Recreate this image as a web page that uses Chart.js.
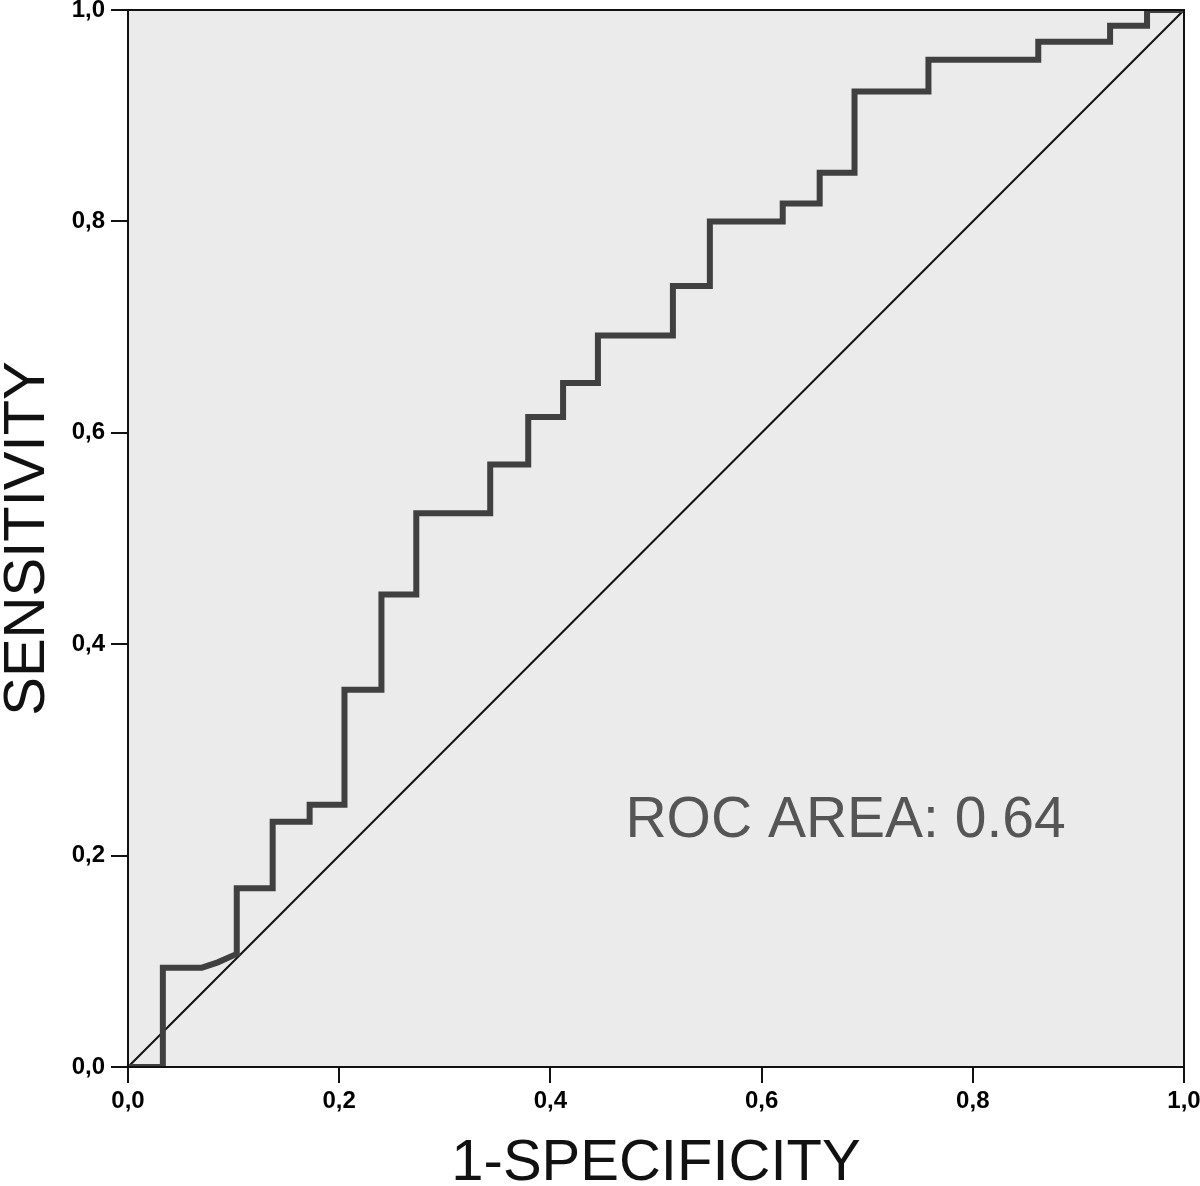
<!DOCTYPE html>
<html>
<head>
<meta charset="utf-8">
<script src="https://cdn.jsdelivr.net/npm/chart.js@4/dist/chart.umd.min.js"></script>
<style>
  html, body { margin: 0; padding: 0; background: #fff; }
  #wrap { width: 1200px; height: 1186px; }
</style>
</head>
<body>
<div id="wrap"><canvas id="myChart"></canvas></div>
<script>
// ROC curve corners
var fpr = [0, 0.033, 0.033, 0.070, 0.085, 0.103, 0.103, 0.137, 0.137, 0.172, 0.172, 0.205, 0.205,
           0.240, 0.240, 0.273, 0.273, 0.343, 0.343, 0.379, 0.379, 0.412, 0.412, 0.445, 0.445,
           0.516, 0.516, 0.551, 0.551, 0.620, 0.620, 0.655, 0.655, 0.688, 0.688, 0.758, 0.758,
           0.862, 0.862, 0.930, 0.930, 0.965, 0.965, 1.0];
var tpr = [0, 0, 0.094, 0.094, 0.099, 0.107, 0.169, 0.169, 0.232, 0.232, 0.248, 0.248, 0.357,
           0.357, 0.447, 0.447, 0.524, 0.524, 0.570, 0.570, 0.615, 0.615, 0.647, 0.647, 0.692,
           0.692, 0.739, 0.739, 0.800, 0.800, 0.817, 0.817, 0.846, 0.846, 0.923, 0.923, 0.953,
           0.953, 0.970, 0.970, 0.985, 0.985, 1.0, 1.0];
var refX = [0, 1];
var refY = [0, 1];
var tickValues = [0, 0.2, 0.4, 0.6, 0.8, 1.0];
var xTitle = '1-SPECIFICITY';
var yTitle = 'SENSITIVITY';
var areaText = 'ROC AREA: 0.64';

var rocPoints = [];
for (let i = 0; i < fpr.length; i++) {
    rocPoints.push({ x: fpr[i], y: tpr[i] });
}
var refPoints = [];
for (let i = 0; i < refX.length; i++) {
    refPoints.push({ x: refX[i], y: refY[i] });
}

function fmt(v) {
    return Number(v).toFixed(1).replace('.', ',');
}

var fontFam = '"Liberation Sans", Arial, sans-serif';

// grey plot background + frame + area label
const framePlugin = {
    id: 'frame',
    beforeDatasetsDraw: function (chart) {
        const a = chart.chartArea, ctx = chart.ctx;
        ctx.save();
        ctx.fillStyle = '#ebebeb';
        ctx.fillRect(a.left, a.top, a.right - a.left, a.bottom - a.top);
        ctx.restore();
    },
    afterDraw: function (chart) {
        const a = chart.chartArea, ctx = chart.ctx;
        const xs = chart.scales.x, ys = chart.scales.y;
        ctx.save();
        ctx.strokeStyle = '#111';
        ctx.lineWidth = 2;
        ctx.strokeRect(a.left, a.top, a.right - a.left, a.bottom - a.top);
        ctx.fillStyle = '#555';
        ctx.font = '57px ' + fontFam;
        ctx.textAlign = 'left';
        ctx.textBaseline = 'middle';
        ctx.fillText(areaText, xs.getPixelForValue(0.471), ys.getPixelForValue(0.232));
        ctx.restore();
    }
};

var ctx = document.getElementById('myChart').getContext('2d');
var myChart = new Chart(ctx, {
    type: 'line',
    data: {
        datasets: [{
            label: 'ROC',
            data: rocPoints,
            borderColor: '#404040',
            borderWidth: 6,
            pointRadius: 0,
            fill: false,
            tension: 0,
            borderJoinStyle: 'miter',
            borderCapStyle: 'butt'
        }, {
            label: 'Reference',
            data: refPoints,
            borderColor: '#111',
            borderWidth: 2,
            pointRadius: 0,
            fill: false
        }]
    },
    options: {
        responsive: true,
        maintainAspectRatio: false,
        animation: false,
        layout: { padding: { top: 10, right: 16, left: 0, bottom: 0 } },
        plugins: {
            legend: { display: false },
            tooltip: { enabled: false }
        },
        scales: {
            x: {
                type: 'linear',
                min: 0,
                max: 1,
                afterBuildTicks: function (scale) {
                    scale.ticks = tickValues.map(function (v) { return { value: v }; });
                },
                afterFit: function (scale) {
                    scale.height = 119;
                    scale.paddingLeft = 0;
                    scale.paddingRight = 0;
                },
                ticks: {
                    color: '#000',
                    font: { family: fontFam, size: 24, weight: 'bold' },
                    padding: 4,
                    maxRotation: 0,
                    callback: function (v) { return fmt(v); }
                },
                grid: { drawOnChartArea: false, tickLength: 16, color: '#111', lineWidth: 2 },
                border: { color: '#111', width: 2 },
                title: {
                    display: true,
                    text: xTitle,
                    color: '#111',
                    font: { family: fontFam, size: 58, lineHeight: 0.76 },
                    padding: 0
                }
            },
            y: {
                type: 'linear',
                min: 0,
                max: 1,
                afterBuildTicks: function (scale) {
                    scale.ticks = tickValues.map(function (v) { return { value: v }; });
                },
                afterFit: function (scale) {
                    scale.width = 128;
                    scale.paddingTop = 0;
                    scale.paddingBottom = 0;
                },
                ticks: {
                    color: '#000',
                    font: { family: fontFam, size: 24, weight: 'bold' },
                    padding: 6,
                    callback: function (v) { return fmt(v); }
                },
                grid: { drawOnChartArea: false, tickLength: 17, color: '#111', lineWidth: 2 },
                border: { color: '#111', width: 2 },
                title: {
                    display: true,
                    text: yTitle,
                    color: '#111',
                    font: { family: fontFam, size: 58, lineHeight: 0.97 },
                    padding: 0
                }
            }
        }
    },
    plugins: [framePlugin]
});
</script>
</body>
</html>
